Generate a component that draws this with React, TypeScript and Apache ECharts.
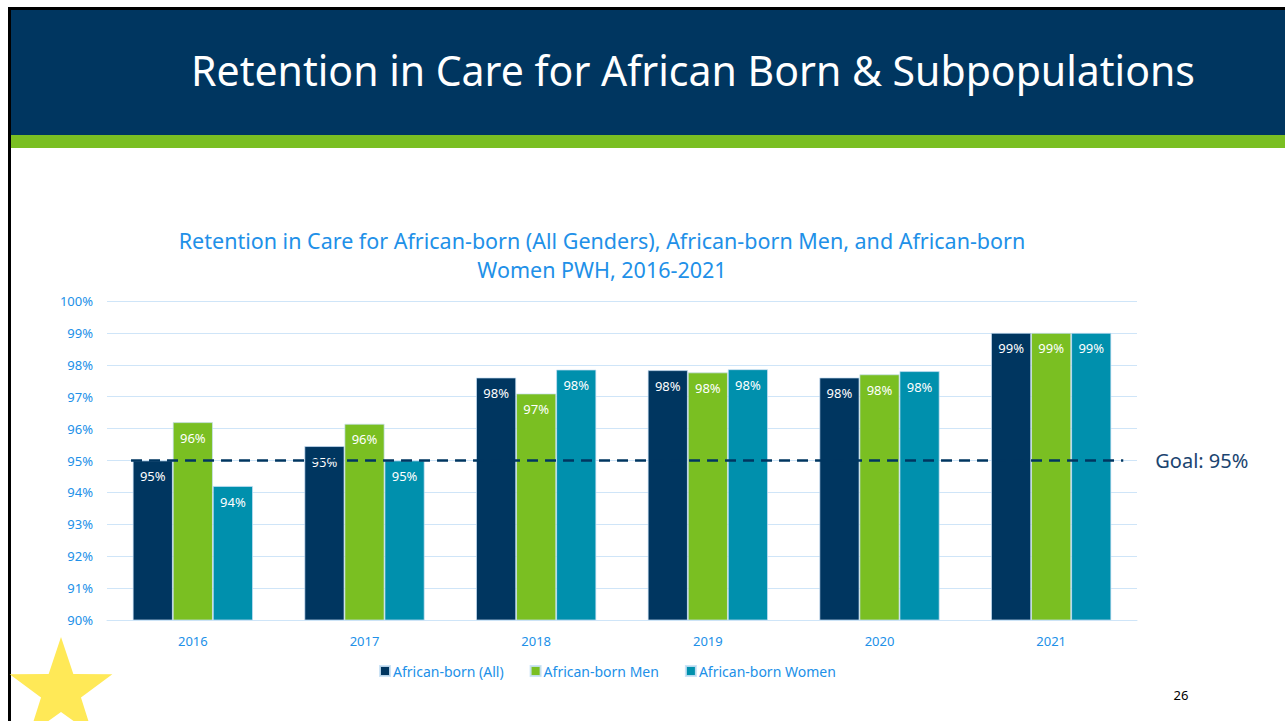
import React, { useEffect, useRef } from "react";
import * as echarts from "echarts";

const years = ["2016", "2017", "2018", "2019", "2020", "2021"];
const seriesNames = ["African-born (All)", "African-born Men", "African-born Women"];
const allValues = [95.0, 95.45, 97.6, 97.83, 97.6, 99.0];
const menValues = [96.2, 96.15, 97.1, 97.76, 97.7, 99.0];
const womenValues = [94.2, 95.0, 97.85, 97.86, 97.8, 99.0];
const goalValue = 95;
const goalSpan = [-0.36, 5.42];
const yTicks = [90, 91, 92, 93, 94, 95, 96, 97, 98, 99, 100];

const NAVY = "#003660";
const GREEN = "#7ABF22";
const TEAL = "#0090AD";
const BLUE = "#2190E8";
const FONT = "'Noto Sans', sans-serif";

function starPoints(cx: number, cy: number, R: number, r: number) {
  const pts: number[][] = [];
  for (let i = 0; i < 10; i++) {
    const rad = i % 2 === 0 ? R : r;
    const a = -Math.PI / 2 + (i * Math.PI) / 5;
    pts.push([cx + rad * Math.cos(a), cy + rad * Math.sin(a)]);
  }
  return pts;
}

export default function App() {
  const ref = useRef<HTMLDivElement>(null);
  useEffect(() => {
    if (!ref.current) return;
    const chart = echarts.init(ref.current, undefined, { renderer: "svg" });
    const barLabel = {
      show: true,
      position: "insideTop" as const,
      distance: 9,
      color: "#ffffff",
      fontSize: 13,
      fontFamily: FONT,
      formatter: (p: any) => Math.round(p.value) + "%",
    };
    const barSeries = (name: string, data: number[], color: string) => ({
      name,
      type: "bar",
      data,
      barGap: "0%",
      barCategoryGap: "30%",
      itemStyle: { color, borderColor: "rgba(200,225,245,0.9)", borderWidth: 0.8 },
      label: barLabel,
      z: 2,
    });
    chart.setOption({
      animation: false,
      backgroundColor: "#ffffff",
      title: {
        text: "Retention in Care for African-born (All Genders), African-born Men, and African-born\nWomen PWH, 2016-2021",
        left: 597,
        top: 221,
        textAlign: "center",
        textStyle: {
          color: BLUE,
          fontSize: 21.5,
          fontWeight: "normal",
          fontFamily: FONT,
          lineHeight: 29,
        },
      },
      legend: {
        data: seriesNames,
        left: 374,
        top: 659,
        icon: "rect",
        itemWidth: 10,
        itemHeight: 10,
        itemGap: 26,
        textStyle: { color: BLUE, fontSize: 14, fontFamily: FONT, padding: [0, 0, 0, -2] },
      },
      grid: { left: 107, right: 148, top: 301, bottom: 101 },
      xAxis: [
        {
          type: "category",
          data: years,
          axisLine: { lineStyle: { color: "#cfe5f8" } },
          axisTick: { show: false },
          axisLabel: { color: BLUE, fontSize: 13, fontFamily: FONT, margin: 14 },
        },
        { type: "value", min: -0.5, max: 5.5, show: false },
      ],
      yAxis: {
        type: "value",
        min: yTicks[0],
        max: yTicks[yTicks.length - 1],
        interval: 1,
        axisLine: { show: false },
        axisTick: { show: false },
        splitLine: { lineStyle: { color: "#cfe5f8", width: 1 } },
        axisLabel: {
          color: BLUE,
          fontSize: 13,
          fontFamily: FONT,
          margin: 14,
          formatter: "{value}%",
        },
      },
      series: [
        barSeries(seriesNames[0], allValues, NAVY),
        barSeries(seriesNames[1], menValues, GREEN),
        barSeries(seriesNames[2], womenValues, TEAL),
        {
          name: "Goal",
          type: "line",
          xAxisIndex: 1,
          data: [
            [goalSpan[0], goalValue],
            [goalSpan[1], goalValue],
          ],
          symbol: "none",
          z: 5,
          lineStyle: { color: NAVY, width: 2.5, type: [11, 7] },
          endLabel: {
            show: true,
            formatter: "Goal: " + goalValue + "%",
            color: "#1B4470",
            fontSize: 20,
            fontFamily: FONT,
            distance: 32,
          },
        },
      ],
      graphic: [
        { type: "rect", shape: { x: 8, y: 7, width: 1277, height: 3 }, style: { fill: "#000" }, z: 10 },
        { type: "rect", shape: { x: 8, y: 7, width: 3, height: 714 }, style: { fill: "#000" }, z: 10 },
        { type: "rect", shape: { x: 11, y: 10, width: 1274, height: 125 }, style: { fill: NAVY }, z: 10 },
        { type: "rect", shape: { x: 11, y: 135, width: 1274, height: 13 }, style: { fill: GREEN }, z: 10 },
        {
          type: "text",
          x: 693,
          y: 70,
          style: {
            text: "Retention in Care for African Born & Subpopulations",
            fill: "#ffffff",
            font: "41px 'Noto Sans', sans-serif",
            textAlign: "center",
            textVerticalAlign: "middle",
          },
          z: 11,
        },
        {
          type: "polygon",
          shape: { points: starPoints(61, 691, 54, 21) },
          style: { fill: "#FFE957" },
          z: 10,
        },
        {
          type: "text",
          x: 1181,
          y: 695,
          style: {
            text: "26",
            fill: "#000",
            font: "13px 'Noto Sans', sans-serif",
            textAlign: "center",
            textVerticalAlign: "middle",
          },
          z: 10,
        },
      ],
    });
    return () => chart.dispose();
  }, []);
  return (
    <div
      ref={ref}
      style={{ position: "absolute", left: 0, top: 0, width: 1285, height: 721 }}
    />
  );
}
